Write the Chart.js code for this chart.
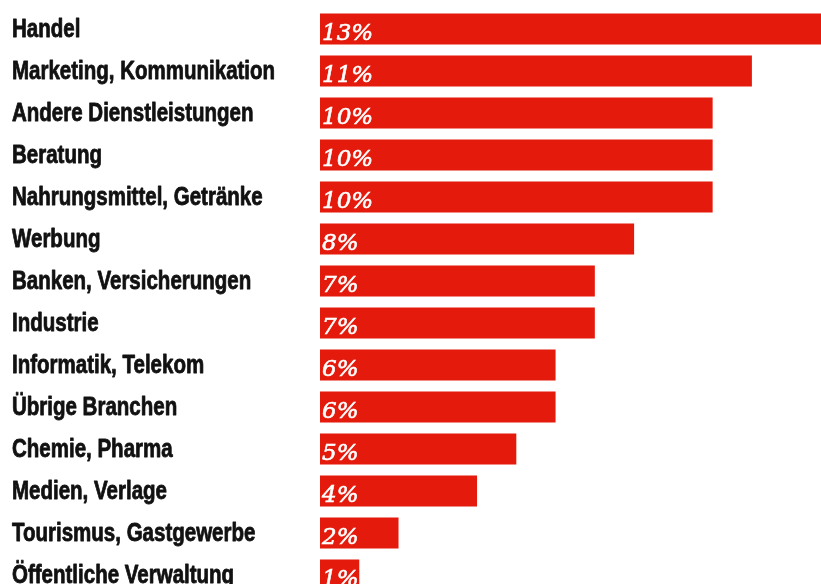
<!DOCTYPE html>
<html>
<head>
<meta charset="utf-8">
<script src="https://cdn.jsdelivr.net/npm/chart.js@4"></script>
<style>
  html, body { margin: 0; padding: 0; background: #fff; overflow: hidden; }
  canvas { display: block; margin-top: -8.5px; }
</style>
</head>
<body>
<canvas id="chart" width="821" height="620"></canvas>
<script>
// Daten
const branchen = [
  "Handel",
  "Marketing, Kommunikation",
  "Andere Dienstleistungen",
  "Beratung",
  "Nahrungsmittel, Getränke",
  "Werbung",
  "Banken, Versicherungen",
  "Industrie",
  "Informatik, Telekom",
  "Übrige Branchen",
  "Chemie, Pharma",
  "Medien, Verlage",
  "Tourismus, Gastgewerbe",
  "Öffentliche Verwaltung"
];
const anteile = [13, 11, 10, 10, 10, 8, 7, 7, 6, 6, 5, 4, 2, 1];

const barColor = "#e41a0c";

// Branchen links (schmal gesetzt) und Werte kursiv in die Balken schreiben
const textLabels = {
  id: "textLabels",
  afterDatasetsDraw(chart) {
    const ctx = chart.ctx;
    const yScale = chart.scales.y;
    const x0 = chart.scales.x.getPixelForValue(0);

    ctx.save();
    ctx.fillStyle = "#111";
    ctx.strokeStyle = "#111";
    ctx.lineWidth = 0.8;
    ctx.lineJoin = "round";
    ctx.font = "bold 25px 'Liberation Sans', Arial, sans-serif";
    ctx.textAlign = "left";
    ctx.textBaseline = "alphabetic";
    branchen.forEach((name, i) => {
      const y = yScale.getPixelForValue(i);
      ctx.save();
      ctx.translate(12, y + 7.5);
      ctx.scale(0.82, 1);
      ctx.fillText(name, 0, 0);
      ctx.strokeText(name, 0, 0);
      ctx.restore();
    });
    ctx.restore();

    ctx.save();
    ctx.fillStyle = "#fff";
    ctx.strokeStyle = "#fff";
    ctx.lineWidth = 0.6;
    ctx.font = "italic 23px 'DejaVu Serif', serif";
    ctx.textAlign = "left";
    ctx.textBaseline = "alphabetic";
    branchen.forEach((name, i) => {
      const y = yScale.getPixelForValue(i);
      ctx.fillText(anteile[i] + "%", x0 + 2, y + 10.5);
      ctx.strokeText(anteile[i] + "%", x0 + 2, y + 10.5);
    });
    ctx.restore();
  }
};

new Chart(document.getElementById("chart").getContext("2d"), {
  type: "bar",
  data: {
    labels: branchen,
    datasets: [{
      data: anteile,
      backgroundColor: barColor,
      borderWidth: 0,
      categoryPercentage: 1,
      barPercentage: 31 / 42
    }]
  },
  options: {
    indexAxis: "y",
    responsive: false,
    animation: false,
    layout: { padding: { top: 16, bottom: 16, left: 320, right: 0 } },
    plugins: {
      legend: { display: false },
      tooltip: { enabled: false }
    },
    scales: {
      x: { display: false, min: 0, max: 12.76 },
      y: { display: false }
    }
  },
  plugins: [textLabels]
});
</script>
</body>
</html>
